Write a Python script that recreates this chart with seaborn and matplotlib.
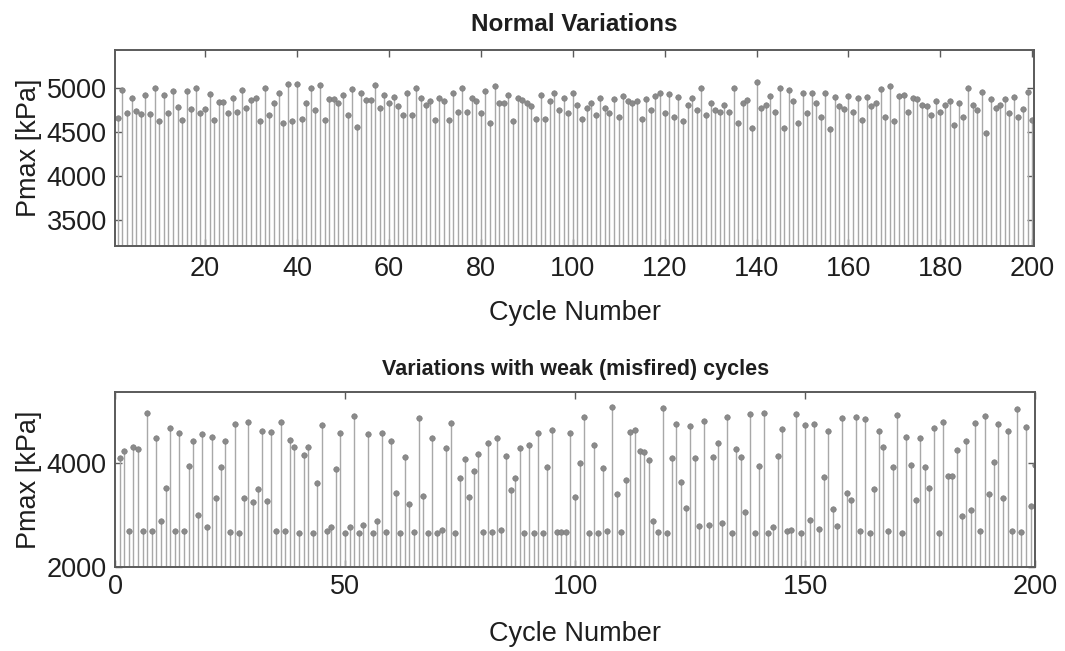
import numpy as np
import pandas as pd
import matplotlib
matplotlib.use("Agg")
import matplotlib.pyplot as plt
import seaborn as sns

# ---------------- data ----------------
cycles = list(range(1, 201))

normal_pmax = [
    4655, 4980, 4720, 4880, 4740, 4700, 4920, 4700, 5000, 4620,
    4920, 4720, 4960, 4780, 4640, 4970, 4760, 5000, 4720, 4760,
    4930, 4640, 4840, 4840, 4720, 4890,
    4730, 4977, 4770, 4860, 4880, 4620, 5000, 4690, 4830, 4940,
    4600, 5050, 4620, 5050, 4650, 4830, 5000, 4750, 5030, 4640,
    4870, 4870, 4830,
    4920, 4690, 4990, 4560, 4940, 4860, 4860, 5030, 4770, 4920,
    4830, 4900, 4790, 4690, 4940, 4690, 5000, 4890, 4810, 4850,
    4640, 4890, 4850, 4640, 4940, 4730, 5000, 4730, 4880, 4850,
    4710, 4960, 4600, 5020, 4830, 4830, 4920, 4620, 4880, 4860,
    4830, 4790, 4650, 4920, 4650, 4850, 4940, 4750, 4880, 4710,
    4940, 4800,
    4650, 4770, 4830, 4690, 4880, 4770, 4710, 4870, 4670, 4910,
    4850, 4830, 4850, 4650, 4870, 4750, 4910, 4940, 4710, 4930,
    4670, 4900, 4620, 4810, 4880, 4750, 5000, 4690, 4830, 4750,
    4730, 4810, 4730, 5000, 4600, 4830, 4860, 4540, 5070, 4770,
    4810, 4910, 4730, 5000, 4540, 4980, 4850, 4600, 4940, 4710,
    4940,
    4830, 4670, 4940, 4530, 4900, 4790, 4760, 4910, 4730, 4890,
    4640, 4900, 4790, 4830, 4990, 4670, 5020, 4620, 4910, 4920,
    4730, 4880, 4870, 4810, 4790, 4690, 4850, 4730, 4810, 4850,
    4580, 4830, 4670, 5000, 4810, 4750, 4950, 4490, 4870, 4770,
    4810, 4870, 4710, 4900, 4670, 4760, 4950, 4640,
]

misfire_pmax = [
    4090, 4237, 2698, 4300, 4260, 2700, 4955, 2700, 4487, 2890,
    3525, 4667, 2700, 4583, 2700, 3942, 4429, 3000, 4551, 2763,
    4506, 3320, 3930, 4429, 2680, 4750, 2660, 3330, 4794, 3256,
    3500, 4622, 3270, 4590, 2700, 4794, 2700, 4442, 4314, 2660,
    4154, 4300, 2660, 3622, 4730, 2700, 2763, 3885, 4571,
    2660, 2763, 4904, 2660, 2808, 4558, 2660, 2890, 4571, 2680,
    4429, 3429, 2660, 4122, 3205, 2680, 4871, 3365, 2660, 4475,
    2660, 2712, 4282, 4775, 2660, 3718, 4071, 3340, 3846, 4167,
    2680, 4390, 2680, 4487, 2712, 4135, 3481, 3705, 4295, 2660,
    4346, 2660, 4583, 2660, 3930, 4635, 2680, 2680, 2680, 4583,
    3340, 3994,
    4879, 2660, 4346, 2647, 3897, 2700, 5083, 3404, 2680, 3673,
    4590, 4635, 4237, 4217, 4058, 2890, 2680, 5051, 2660, 4090,
    4750, 3641, 3141, 4717, 4090, 2788, 4814, 2808, 4122, 4379,
    2853, 4891, 2660, 4263, 4109, 3064, 4936, 2660, 3942, 4955,
    2660, 2763, 4141, 4654, 2700, 2712, 4942, 2660, 4730, 2904,
    4750, 2725, 3725, 4615, 3115, 2788, 4860, 3417, 3288, 4891,
    2700, 4840, 2660, 3500, 4622, 4314, 2700, 3930, 4923, 2660,
    4506, 3962, 3288, 4475, 3930, 3513, 4667, 2660, 4794, 3750,
    3750, 4250, 2981, 4429, 3096, 4775, 2700, 4904, 3398, 4026,
    4750, 3330, 4622, 2700, 5032, 2680, 4698, 3173, 3962,
]

top_xticks = [20, 40, 60, 80, 100, 120, 140, 160, 180, 200]
top_yticks = [3500, 4000, 4500, 5000]
bot_xticks = [0, 50, 100, 150, 200]
bot_yticks = [2000, 4000]

titles = ["Normal Variations", "Variations with weak (misfired) cycles"]
xlabel = "Cycle Number"
ylabel = "Pmax [kPa]"

# ---------------- style ----------------
sns.set_theme(style="ticks")
plt.rcParams["font.family"] = ["Liberation Sans", "DejaVu Sans"]

stem_color = "#a8a8a8"
marker_color = "#8a8a8a"
frame_color = "#5a5a5a"
text_color = "#1e1e1e"

fig = plt.figure(figsize=(10.65, 6.51), dpi=100)
ax_top = fig.add_axes([0.108, 0.622, 0.863, 0.301])
ax_bot = fig.add_axes([0.108, 0.129, 0.864, 0.269])

panels = [
    # ax, values, ylim, xlim, xticks, yticks, title pad, title size, xtick pad, xlabel pad
    (ax_top, normal_pmax, (3200, 5430), (0.4, 200.4), top_xticks, top_yticks, 14, 17.5, 7, 13),
    (ax_bot, misfire_pmax, (2000, 5365), (0, 200), bot_xticks, bot_yticks, 12, 15.5, 5, 15),
]

for i, (ax, vals, ylim, xlim, xt, yt, tpad, tsize, xpad, lpad) in enumerate(panels):
    df = pd.DataFrame({"cycle": cycles, "pmax": vals})
    ax.vlines(df["cycle"], 0, df["pmax"], color=stem_color, linewidth=1.0, zorder=1)
    sns.scatterplot(data=df, x="cycle", y="pmax", ax=ax, s=16, color=marker_color,
                    edgecolor="#7a7a7a", linewidth=0.4, zorder=2, legend=False)
    ax.set_xlim(*xlim)
    ax.set_ylim(*ylim)
    ax.set_xticks(xt)
    ax.set_yticks(yt)
    ax.tick_params(direction="in", top=True, right=True, length=5, width=1,
                   color=frame_color, labelsize=19.5, labelcolor=text_color)
    ax.tick_params(axis="x", pad=xpad)
    ax.tick_params(axis="y", pad=6)
    for sp in ax.spines.values():
        sp.set_color(frame_color)
        sp.set_linewidth(1.4)
    ax.set_xlabel(xlabel, fontsize=19.5, color=text_color, labelpad=lpad)
    ax.set_ylabel(ylabel, fontsize=19.5, color=text_color, labelpad=3)
    ax.set_title(titles[i], fontsize=tsize, fontweight="bold", color=text_color, pad=tpad)

fig.savefig("out.png", dpi=100)
